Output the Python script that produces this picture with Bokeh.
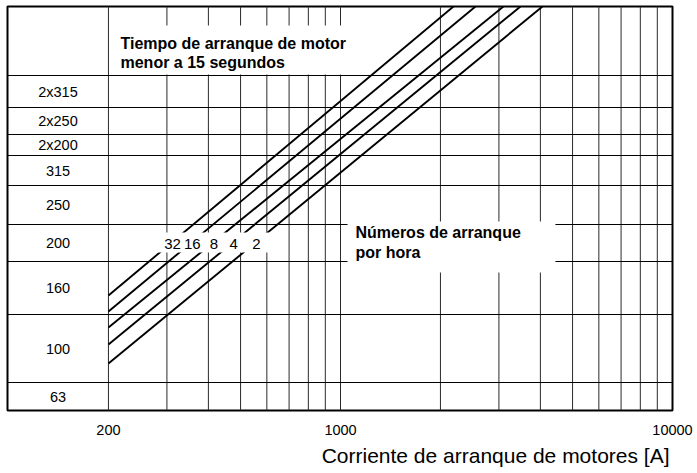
import math
from bokeh.plotting import figure
from bokeh.models import FixedTicker, Title, Range1d
from bokeh.core.properties import value
from bokeh.embed import file_html
from bokeh.resources import INLINE

# ---------------- data ----------------
x_ticks = [200, 1000, 10000]
x_tick_labels = ["200", "1000", "10000"]
x_left = 99.3          # left edge of the label column (A)
x_right = 10000
grid_currents = [200, 300, 400, 500, 600, 700, 800, 900,
                 1000, 2000, 3000, 4000, 5000, 6000, 7000, 8000, 9000]

# rows (bottom -> top), diagram height units 0..404
row_labels = ["63", "100", "160", "200", "250", "315", "2x200", "2x250", "2x315"]
row_edges = [0, 28, 96, 149, 186, 225, 255, 276, 303, 335, 404]

# start-number curves: (current, level) at start and end
curve_names = ["32", "16", "8", "4", "2"]
curve_start_current = [200, 200, 200, 200, 200]
curve_start_level = [115, 99, 83, 66, 47]
curve_end_current = [2189, 2550, 3096, 3484, 4058]
curve_end_level = [404, 404, 404, 404, 404]
curve_label_level = 167

title_lines = ["Tiempo de arranque de motor", "menor a 15 segundos"]
note_lines = ["Números de arranque", "por hora"]
x_title = "Corriente de arranque de motores [A]"

FONT = "Liberation Sans"

# ---------------- figure ----------------
p = figure(frame_width=665, frame_height=404, x_axis_type="log",
           x_range=Range1d(x_left, x_right), y_range=Range1d(row_edges[0], row_edges[-1]),
           output_backend="svg", toolbar_location=None,
           min_border_left=7, min_border_top=6, min_border_right=25, min_border_bottom=62)
p.background_fill_color = "white"
p.border_fill_color = "white"
p.outline_line_color = "black"
p.outline_line_width = 2
p.xgrid.visible = False
p.ygrid.visible = False
p.yaxis.visible = False

ax = p.xaxis[0]
ax.ticker = FixedTicker(ticks=x_ticks, minor_ticks=[])
ax.major_label_overrides = dict(zip(x_ticks, x_tick_labels))
ax.axis_line_color = None
ax.major_tick_line_color = None
ax.minor_tick_line_color = None
ax.major_tick_out = 0
ax.major_label_standoff = 14
ax.major_label_text_font = FONT
ax.major_label_text_font_size = "14.5px"
ax.major_label_text_color = "black"

# vertical grid lines
p.segment(x0=grid_currents, x1=grid_currents,
          y0=[row_edges[0]] * len(grid_currents), y1=[row_edges[-1]] * len(grid_currents),
          line_color="#2a2a2a", line_width=1)
# horizontal row lines
inner = row_edges[1:-1]
p.segment(x0=[x_left] * len(inner), x1=[x_right] * len(inner), y0=inner, y1=inner,
          line_color="black", line_width=1)

# curves
p.segment(x0=curve_start_current, x1=curve_end_current,
          y0=curve_start_level, y1=curve_end_level,
          line_color="black", line_width=1.9)

# white boxes hiding lines behind the texts
p.quad(left=[202.8, 277, 1050], right=[1088, 662, 4440],
       bottom=[336, 158, 138], top=[385, 178, 189],
       fill_color="white", line_color=None)

# row labels
row_mid = [(row_edges[i] + row_edges[i + 1]) / 2 for i in range(len(row_labels))]
lab_x = math.sqrt(x_left * 200)
p.text(x=[lab_x] * len(row_labels), y=row_mid, text=row_labels,
       text_font=value(FONT), text_font_size="14.5px", text_color="black",
       text_align="center", text_baseline="middle")

# curve labels at the crossing of each curve with the label level
cl_x = []
for x0, y0, x1, y1 in zip(curve_start_current, curve_start_level, curve_end_current, curve_end_level):
    lx = math.log10(x0) + (curve_label_level - y0) * (math.log10(x1) - math.log10(x0)) / (y1 - y0)
    cl_x.append(10 ** lx)
p.text(x=cl_x, y=[curve_label_level] * len(cl_x), text=curve_names,
       text_font=value(FONT), text_font_size="15px", text_color="black",
       text_align="center", text_baseline="middle", x_offset=2)

# bold notes
p.text(x=[217.4, 217.4], y=[367, 348], text=title_lines,
       text_font=value(FONT), text_font_size="16px", text_font_style="bold",
       text_color="black", text_align="left", text_baseline="middle")
p.text(x=[1109, 1109], y=[178, 158], text=note_lines,
       text_font=value(FONT), text_font_size="16px", text_font_style="bold",
       text_color="black", text_align="left", text_baseline="middle")

t = Title(text=x_title, align="right", text_font=FONT, text_font_size="21px",
          text_font_style="normal", text_color="black", standoff=9, offset=3)
p.add_layout(t, "below")

open("out.html", "w").write(file_html(p, INLINE))
